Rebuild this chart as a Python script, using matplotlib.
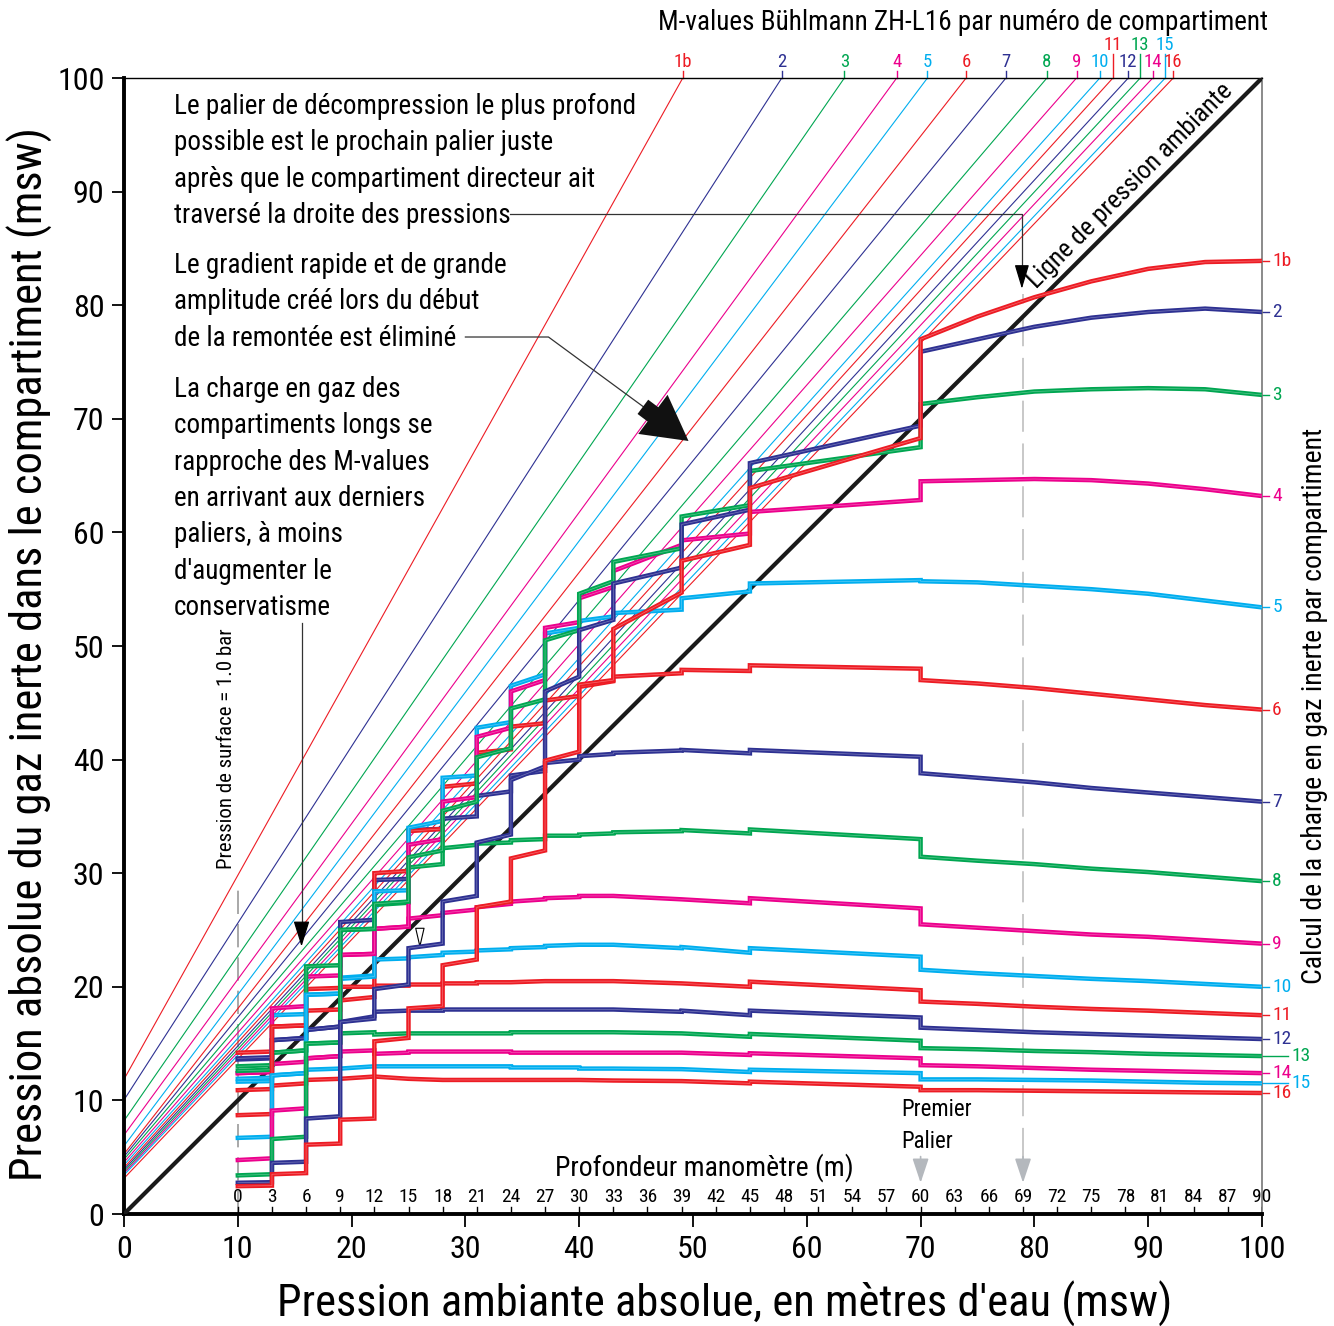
import matplotlib
matplotlib.use('Agg')
import matplotlib.pyplot as plt
from matplotlib import font_manager

# --- fonts -------------------------------------------------------------
def pick_font(names):
    for name in names:
        try:
            font_manager.findfont(font_manager.FontProperties(family=name),
                                  fallback_to_default=False)
            return name
        except ValueError:
            pass
    return 'DejaVu Sans'

FONT = pick_font(['Liberation Sans Narrow', 'Roboto Condensed', 'Liberation Sans'])
plt.rcParams['font.family'] = [FONT, 'DejaVu Sans']

RED, BLUE, GREEN, PINK, CYAN = '#ED1C24', '#2E3192', '#00A651', '#EC008C', '#00AEEF'

# --- data --------------------------------------------------------------
comp = ['1b', '2', '3', '4', '5', '6', '7', '8', '9', '10', '11', '12', '13', '14', '15', '16']
comp_col = [RED, BLUE, GREEN, PINK, CYAN, RED, BLUE, GREEN, PINK, CYAN,
            RED, BLUE, GREEN, PINK, CYAN, RED]

# M-value lines: value at ambient 0 and ambient pressure where they reach 100 msw
m_at_zero = [11.86, 10.04, 8.21, 6.95, 5.99, 5.28, 5.05, 4.81, 4.55, 4.31,
             4.08, 3.90, 3.73, 3.58, 3.43, 3.14]
m_top_x = [49.1, 57.8, 63.3, 67.9, 70.6, 74.0, 77.5, 81.1, 83.7, 85.75,
           86.9, 88.25, 89.3, 90.4, 91.5, 92.2]
m_label_high = ['11', '13', '15']

# ascent from the bottom (ambient 100) to the first stop
right_x = [100, 95, 90, 85, 80, 75]
right_vals = {
    '1b': [83.9, 83.8, 83.2, 82.1, 80.7, 79.0],
    '2': [79.4, 79.7, 79.4, 78.9, 78.1, 77.0],
    '3': [72.1, 72.6, 72.7, 72.6, 72.4, 71.9],
    '4': [63.2, 63.8, 64.3, 64.6, 64.7, 64.6],
    '5': [53.4, 54.0, 54.6, 55.0, 55.3, 55.6],
    '6': [44.4, 44.8, 45.3, 45.8, 46.3, 46.7],
    '7': [36.3, 36.7, 37.1, 37.5, 38.0, 38.4],
    '8': [29.3, 29.7, 30.1, 30.4, 30.8, 31.1],
    '9': [23.8, 24.1, 24.4, 24.6, 24.9, 25.2],
    '10': [20.0, 20.25, 20.5, 20.7, 20.95, 21.2],
    '11': [17.5, 17.7, 17.9, 18.05, 18.25, 18.5],
    '12': [15.4, 15.55, 15.7, 15.85, 16.0, 16.2],
    '13': [13.9, 14.0, 14.1, 14.25, 14.35, 14.5],
    '14': [12.4, 12.5, 12.6, 12.7, 12.85, 13.0],
    '15': [11.5, 11.55, 11.65, 11.75, 11.8, 11.85],
    '16': [10.65, 10.7, 10.75, 10.8, 10.85, 10.9],
}

# decompression stops (ambient msw); last value = surface
stop_x = [70, 55, 49, 43, 40, 37, 34, 31, 28, 25, 22, 19, 16, 13, 10]
arrive = {
    '1b': [77.0, 63.9, 57.5, 51.5, 46.6, 39.9, 31.3, 27.0, 21.9, 18.1, 15.2, 8.3, 6.1, 3.5, 2.45],
    '2': [75.9, 66.1, 60.7, 55.5, 51.4, 46.0, 38.2, 32.7, 27.5, 23.4, 19.8, 16.9, 8.4, 4.5, 2.75],
    '3': [71.3, 65.4, 61.4, 57.4, 54.6, 50.5, 44.5, 40.2, 35.5, 31.4, 27.3, 25.0, 15.0, 6.6, 3.4],
    '4': [64.5, 61.8, 59.3, 56.6, 54.2, 51.6, 46.0, 42.0, 36.3, 32.5, 25.1, 22.8, 13.7, 9.1, 4.75],
    '5': [55.7, 55.5, 54.2, 52.9, 52.2, 51.1, 46.5, 42.8, 38.4, 34.0, 28.4, 20.7, 19.3, 12.2, 6.7],
    '6': [47.0, 48.3, 47.9, 47.3, 46.4, 45.2, 42.9, 40.6, 37.6, 33.7, 30.0, 18.8, 17.9, 16.5, 8.7],
    '7': [38.8, 40.85, 40.85, 40.6, 40.3, 39.7, 38.6, 36.8, 34.8, 33.8, 29.4, 25.7, 16.2, 15.3, 13.7],
    '8': [31.45, 33.85, 33.8, 33.6, 33.4, 33.3, 32.9, 32.6, 32.2, 30.5, 27.2, 25.0, 21.8, 14.2, 12.6],
    '9': [25.5, 27.8, 27.7, 28.0, 28.0, 27.8, 27.5, 27.0, 26.5, 26.0, 25.1, 22.8, 20.9, 18.1, 12.4],
    '10': [21.5, 23.4, 23.5, 23.7, 23.7, 23.6, 23.4, 23.2, 23.0, 22.6, 22.4, 20.8, 19.3, 17.5, 11.9],
    '11': [18.7, 20.45, 20.3, 20.5, 20.5, 20.5, 20.4, 20.4, 20.3, 20.2, 20.1, 20.0, 19.8, 16.5, 14.2],
    '12': [16.4, 17.9, 17.9, 18.0, 18.0, 18.0, 18.0, 18.0, 18.0, 17.9, 17.8, 16.9, 16.2, 15.3, 13.6],
    '13': [14.6, 15.85, 15.9, 16.0, 16.0, 16.0, 16.0, 15.9, 15.9, 15.9, 15.8, 15.9, 15.0, 14.2, 13.0],
    '14': [13.1, 14.15, 14.2, 14.2, 14.2, 14.2, 14.2, 14.3, 14.3, 14.3, 14.1, 14.3, 13.7, 13.2, 12.4],
    '15': [11.85, 12.7, 12.75, 12.8, 12.8, 12.9, 12.9, 13.0, 13.0, 13.0, 13.0, 12.8, 12.7, 12.2, 11.65],
    '16': [10.9, 11.65, 11.7, 11.75, 11.8, 11.8, 11.8, 11.8, 11.8, 11.9, 12.1, 11.9, 11.8, 11.3, 10.9],
}
leave = {
    '1b': [68.3, 58.9, 54.7, 47.0, 40.7, 32.0, 27.5, 22.4, 18.3, 15.5, 8.4, 6.2, 3.6, 2.5],
    '2': [69.4, 62.0, 56.9, 52.3, 47.3, 39.4, 33.4, 28.0, 23.8, 20.2, 17.2, 8.6, 4.6, 2.8],
    '3': [67.5, 62.4, 58.6, 55.7, 51.4, 45.3, 41.0, 36.3, 32.0, 27.5, 25.1, 15.1, 6.8, 3.5],
    '4': [62.85, 59.9, 58.9, 55.2, 52.1, 47.0, 42.8, 36.7, 33.0, 25.3, 22.9, 13.9, 9.3, 4.9],
    '5': [55.8, 54.8, 53.2, 52.6, 51.6, 47.5, 43.3, 38.6, 34.6, 28.5, 20.9, 19.4, 12.4, 6.8],
    '6': [48.0, 47.8, 47.6, 46.9, 45.6, 43.2, 40.9, 37.9, 33.9, 30.2, 19.1, 18.0, 16.6, 8.8],
    '7': [40.25, 40.55, 40.8, 40.5, 40.0, 39.0, 37.2, 35.0, 33.9, 29.5, 25.9, 16.5, 15.5, 13.8],
    '8': [33.0, 33.5, 33.7, 33.5, 33.3, 33.0, 32.7, 32.5, 30.8, 27.4, 25.1, 21.9, 14.4, 12.7],
    '9': [26.9, 27.35, 27.7, 28.0, 27.9, 27.7, 27.3, 26.8, 26.3, 25.3, 22.9, 21.0, 18.3, 12.5],
    '10': [22.65, 23.0, 23.4, 23.7, 23.7, 23.5, 23.3, 23.1, 22.8, 22.5, 21.0, 19.4, 17.6, 12.0],
    '11': [19.7, 20.0, 20.3, 20.5, 20.5, 20.5, 20.4, 20.3, 20.2, 20.1, 20.0, 19.9, 16.6, 14.3],
    '12': [17.3, 17.5, 17.8, 18.0, 18.0, 18.0, 18.0, 18.0, 17.9, 17.9, 17.4, 16.5, 15.5, 13.7],
    '13': [15.25, 15.6, 15.9, 16.0, 16.0, 16.0, 15.9, 15.9, 15.9, 15.9, 16.0, 15.1, 14.4, 13.1],
    '14': [13.7, 14.0, 14.2, 14.2, 14.2, 14.2, 14.3, 14.3, 14.3, 14.2, 14.4, 13.9, 13.4, 12.5],
    '15': [12.4, 12.5, 12.75, 12.8, 12.9, 12.9, 13.0, 13.0, 13.0, 13.0, 13.0, 12.8, 12.4, 11.7],
    '16': [11.2, 11.5, 11.7, 11.75, 11.8, 11.8, 11.8, 11.8, 11.8, 11.9, 12.1, 11.9, 11.5, 11.0],
}

depth_ticks = list(range(0, 91, 3))
surface = 10   # 1.0 bar
first_stop_depth = 60
ceiling_depth = 69

# --- figure ------------------------------------------------------------
fig = plt.figure(figsize=(13.34, 13.26), dpi=100)
ax = fig.add_axes([124 / 1334, 112 / 1326, 1138 / 1334, 1136 / 1326])
ax.set_xlim(0, 100)
ax.set_ylim(0, 100)

for side in ['left', 'bottom']:
    ax.spines[side].set_linewidth(2.8)
ax.spines['top'].set_linewidth(1.0)
ax.spines['right'].set_linewidth(1.2)
ax.spines['right'].set_color('#777777')

ax.set_xticks(range(0, 101, 10))
ax.set_yticks(range(0, 101, 10))
ax.tick_params(axis='both', length=9, width=1.3, labelsize=23, direction='out')
ax.tick_params(axis='x', pad=6)
ax.tick_params(axis='y', pad=5)

# M-value lines
for name, col, a, xt in zip(comp, comp_col, m_at_zero, m_top_x):
    ax.plot([0, xt], [a, 100], color=col, lw=0.8, zorder=2)
    high = name in m_label_high
    ytick = 102.15 if high else 100.65
    ax.plot([xt, xt], [100, ytick], color=col, lw=1.0, clip_on=False, zorder=2)
    ax.text(xt, ytick, name, color=col, fontsize=13.5, ha='center',
            va='bottom', clip_on=False)

# ambient pressure line
ax.plot([0, 100], [0, 100], color='#1a1a1a', lw=3.0, zorder=4)

# dashed reference lines
ax.plot([surface, surface], [0, 29.2], color='#999999', lw=1.2,
        dashes=(14, 6), zorder=1)
ax.plot([surface + ceiling_depth] * 2, [4.8, 81.0], color='#c8c8c8', lw=1.4,
        dashes=(16, 6), zorder=1)

# tissue loading curves (slow compartments first)
for name, col in list(zip(comp, comp_col))[::-1]:
    xs = list(right_x)
    ys = list(right_vals[name])
    for i, sx in enumerate(stop_x):
        xs.append(sx)
        ys.append(arrive[name][i])
        if i < len(leave[name]):
            xs.append(sx)
            ys.append(leave[name][i])
    ax.plot(xs, ys, color=col, lw=3.2, solid_joinstyle='miter', zorder=5)
    ax.plot(xs, ys, color='white', lw=0.5, alpha=0.35, zorder=5)
    # right labels
    yend = right_vals[name][0]
    if name in ('13', '15'):
        ax.plot([100, 102.3], [yend, yend], color=col, lw=1.0, clip_on=False)
        ax.text(102.6, yend, name, color=col, fontsize=14, va='center',
                clip_on=False)
    else:
        ax.plot([100, 100.6], [yend, yend], color=col, lw=1.0, clip_on=False)
        ax.text(100.9, yend, name, color=col, fontsize=14, va='center',
                clip_on=False)

# depth scale on the bottom axis
for d in depth_ticks:
    ax.plot([surface + d] * 2, [0, 0.6], color='k', lw=1.0, zorder=6)
    ax.text(surface + d, 0.7, str(d), fontsize=14, ha='center', va='bottom')
ax.text(51.0, 4.1, 'Profondeur manomètre (m)', fontsize=20, ha='center', va='center')

# grey arrows for the first stop and ceiling
for d in (first_stop_depth, ceiling_depth):
    ax.annotate('', xy=(surface + d, 2.5), xytext=(surface + d, 5.3),
                arrowprops=dict(arrowstyle='-|>,head_length=1.5,head_width=0.5',
                                color='#b4b8bd', lw=1.2))
ax.text(68.3, 10.2, 'Premier\nPalier', fontsize=16.5, ha='left', va='top',
        linespacing=1.5)

# annotations
note_kw = dict(fontsize=19.5, ha='left', va='top', linespacing=1.45)
ax.text(4.4, 98.7, "Le palier de décompression le plus profond\n"
        "possible est le prochain palier juste\n"
        "après que le compartiment directeur ait\n"
        "traversé la droite des pressions", **note_kw)
ax.plot([33.9, 78.9, 78.9], [88.0, 88.0, 83.0], color='#333333', lw=0.9)
ax.annotate('', xy=(78.9, 81.2), xytext=(78.9, 83.3),
            arrowprops=dict(arrowstyle='-|>,head_length=1.5,head_width=0.45',
                            color='k', lw=0.9))

ax.text(4.4, 84.7, "Le gradient rapide et de grande\n"
        "amplitude créé lors du début\n"
        "de la remontée est éliminé", **note_kw)
ax.plot([30.0, 37.3, 46.4], [77.2, 77.2, 70.5], color='#333333', lw=0.9)
ax.annotate('', xy=(49.8, 67.9), xytext=(45.4, 71.2),
            arrowprops=dict(arrowstyle='simple,head_length=1.0,head_width=1.1,tail_width=0.4',
                            mutation_scale=32, color='#111111', lw=0))

ax.text(4.4, 73.8, "La charge en gaz des\n"
        "compartiments longs se\n"
        "rapproche des M-values\n"
        "en arrivant aux derniers\n"
        "paliers, à moins\n"
        "d'augmenter le\n"
        "conservatisme", **note_kw)
ax.plot([15.6, 15.6], [52.0, 25.5], color='#333333', lw=0.9)
ax.annotate('', xy=(15.6, 23.3), xytext=(15.6, 25.7),
            arrowprops=dict(arrowstyle='-|>,head_length=1.6,head_width=0.5',
                            color='k', lw=0.9))
ax.annotate('', xy=(26.0, 23.1), xytext=(26.0, 25.1),
            arrowprops=dict(arrowstyle='-|>,head_length=1.3,head_width=0.3',
                            fc='white', ec='k', lw=0.8))

ax.text(88.4, 90.5, 'Ligne de pression ambiante', fontsize=18.5, rotation=45,
        ha='center', va='center', rotation_mode='anchor')
ax.text(9.0, 41.0, 'Pression de surface = 1.0 bar', fontsize=15, rotation=90,
        ha='center', va='center')

# titles and axis names
ax.text(1.005, 1.049, 'M-values Bühlmann ZH-L16 par numéro de compartiment',
        transform=ax.transAxes, fontsize=19.5, ha='right', va='center')
ax.text(1.046, 0.447, 'Calcul de la charge en gaz inerte par compartiment',
        transform=ax.transAxes, fontsize=20, rotation=90, ha='center', va='center')
ax.text(-0.083, 0.493, "Pression absolue du gaz inerte dans le compartiment (msw)",
        transform=ax.transAxes, fontsize=32, rotation=90, ha='center', va='center')
ax.text(0.528, -0.079, "Pression ambiante absolue, en mètres d'eau (msw)",
        transform=ax.transAxes, fontsize=32, ha='center', va='center')

fig.savefig('out.png', dpi=100)
